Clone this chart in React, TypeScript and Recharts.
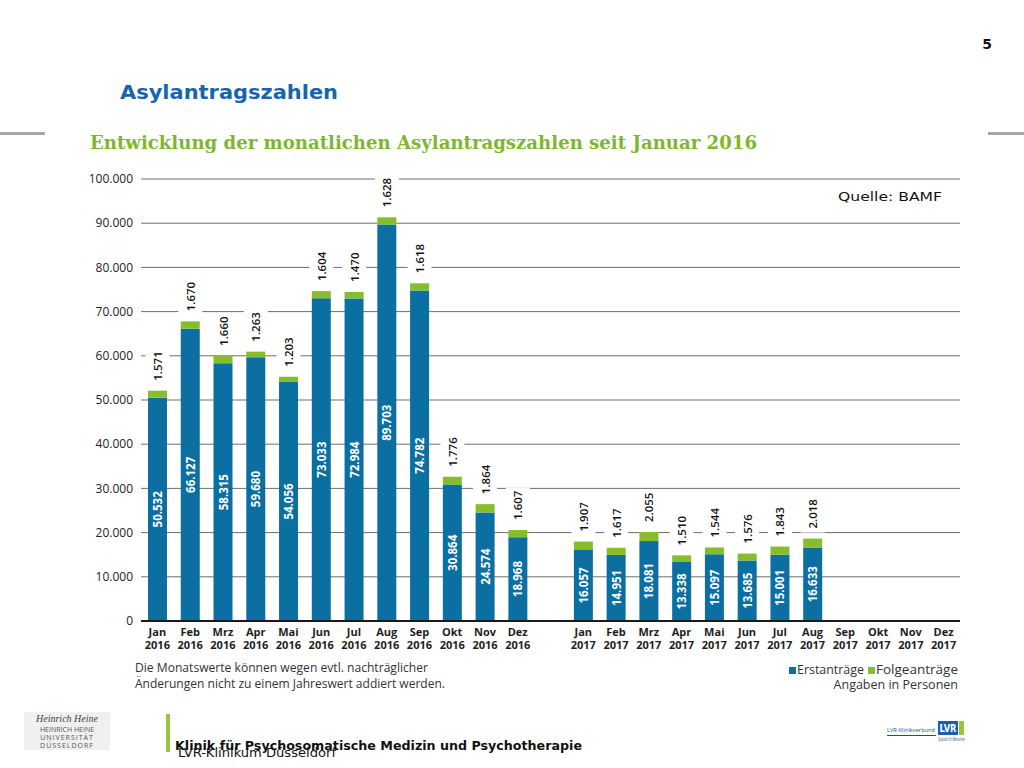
import React from "react";
import { BarChart, Bar, XAxis, YAxis, CartesianGrid, LabelList } from "recharts";

const months = ["Jan", "Feb", "Mrz", "Apr", "Mai", "Jun", "Jul", "Aug", "Sep", "Okt", "Nov", "Dez"];
const erst2016 = [50532, 66127, 58315, 59680, 54056, 73033, 72984, 89703, 74782, 30864, 24574, 18968];
const folge2016 = [1571, 1670, 1660, 1263, 1203, 1604, 1470, 1628, 1618, 1776, 1864, 1607];
const erst2017: (number | null)[] = [16057, 14951, 18081, 13338, 15097, 13685, 15001, 16633, null, null, null, null];
const folge2017: (number | null)[] = [1907, 1617, 2055, 1510, 1544, 1576, 1843, 2018, null, null, null, null];
const yTicks = [0, 10000, 20000, 30000, 40000, 50000, 60000, 70000, 80000, 90000, 100000];

const data: any[] = [];
months.forEach((m, i) => data.push({ key: `${m} 2016`, erst: erst2016[i], folge: folge2016[i] }));
data.push({ key: "gap", erst: null, folge: null });
months.forEach((m, i) => data.push({ key: `${m} 2017`, erst: erst2017[i], folge: folge2017[i] }));

const BLUE = "#0b6fa2";
const GREEN = "#86bd2a";
const FONT = "'Open Sans', sans-serif";

const fmt = (v: number) => {
  const s = String(Math.round(v));
  return s.replace(/\B(?=(\d{3})+(?!\d))/g, ".");
};

const XTick = (props: any) => {
  const { x, payload } = props;
  const v: string = payload.value;
  if (!v || v === "gap") return null;
  const [m, y] = v.split(" ");
  return (
    <g>
      <text x={x} y={636} textAnchor="middle" fontFamily={FONT} fontWeight={700} fontSize={11} fill="#1e1e1e">{m}</text>
      <text x={x} y={649} textAnchor="middle" fontFamily={FONT} fontWeight={700} fontSize={11} fill="#1e1e1e">{y}</text>
    </g>
  );
};

const ErstLabel = (props: any) => {
  const { x, y, width, height, value } = props;
  if (value == null) return null;
  const cx = Number(x) + Number(width) / 2;
  const cy = Number(y) + Number(height) / 2;
  return (
    <text x={cx} y={cy} transform={`rotate(-90 ${cx} ${cy})`} textAnchor="middle" dominantBaseline="central"
      fontFamily={FONT} fontWeight={700} fontSize={11.5} fill="#ffffff">{fmt(value)}</text>
  );
};

const FolgeLabel = (props: any) => {
  const { x, y, width, value } = props;
  if (value == null) return null;
  const cx = Number(x) + Number(width) / 2;
  const sy = Number(y) - 10;
  return (
    <g>
      <rect x={cx - 12} y={sy - 32} width={24} height={36} fill="#ffffff" />
      <text x={cx} y={sy} transform={`rotate(-90 ${cx} ${sy})`} textAnchor="start" dominantBaseline="central"
        fontFamily={FONT} fontWeight={600} fontSize={11.5} fill="#111">{fmt(value)}</text>
    </g>
  );
};

export default function App() {
  return (
    <div style={{ position: "absolute", left: 0, top: 0, width: 1024, height: 768, background: "#fff", overflow: "hidden" }}>
      <div style={{ position: "absolute", left: 0, top: 0 }}>
        <BarChart width={1024} height={768} data={data} margin={{ top: 179, right: 64, bottom: 117, left: 81 }} barCategoryGap={0}>
          <CartesianGrid vertical={false} stroke="#6e6e6e" strokeWidth={1} />
          <XAxis dataKey="key" interval={0} tick={<XTick />} tickLine={false} axisLine={{ stroke: "#1a1a1a", strokeWidth: 2 }} height={30} />
          <YAxis domain={[0, 100000]} ticks={yTicks} tickFormatter={fmt} width={60} axisLine={false} tickLine={false}
            tick={{ fontFamily: FONT, fontSize: 12, fill: "#222" }} interval={0} />
          <Bar dataKey="erst" stackId="a" fill={BLUE} barSize={19} isAnimationActive={false}>
            <LabelList dataKey="erst" content={<ErstLabel />} />
          </Bar>
          <Bar dataKey="folge" stackId="a" fill={GREEN} barSize={19} isAnimationActive={false}>
            <LabelList dataKey="folge" content={<FolgeLabel />} />
          </Bar>
        </BarChart>
      </div>
      <svg width={1024} height={768} style={{ position: "absolute", left: 0, top: 0, pointerEvents: "none" }}>
        <text x={987} y={49} textAnchor="middle" fontFamily="'DejaVu Sans', sans-serif" fontWeight={700} fontSize={14} fill="#111">5</text>
        <text x={120} y={99} fontFamily="'DejaVu Sans', sans-serif" fontWeight={700} fontSize={20} fill="#1566ae"
          textLength={218} lengthAdjust="spacingAndGlyphs">Asylantragszahlen</text>
        <rect x={0} y={132} width={45} height={3} fill="#a6a6a6" />
        <rect x={988} y={132} width={36} height={3} fill="#a6a6a6" />
        <text x={90} y={149} fontFamily="'DejaVu Serif', serif" fontWeight={700} fontSize={19} fill="#7db72f"
          textLength={667} lengthAdjust="spacingAndGlyphs">Entwicklung der monatlichen Asylantragszahlen seit Januar 2016</text>
        <text x={838} y={201} fontFamily="'DejaVu Sans', sans-serif" fontSize={12.5} fill="#111"
          textLength={104} lengthAdjust="spacingAndGlyphs">Quelle:  BAMF</text>
        <text x={135} y={672} fontFamily={FONT} fontSize={12.5} fill="#333" textLength={293} lengthAdjust="spacingAndGlyphs">Die Monatswerte können wegen evtl. nachträglicher</text>
        <text x={135} y={688} fontFamily={FONT} fontSize={12.5} fill="#333" textLength={310} lengthAdjust="spacingAndGlyphs">Änderungen nicht zu einem Jahreswert addiert werden.</text>
        <rect x={789} y={667} width={7} height={7} fill={BLUE} />
        <text x={797} y={674} fontFamily={FONT} fontSize={12.5} fill="#333" textLength={67} lengthAdjust="spacingAndGlyphs">Erstanträge</text>
        <rect x={868} y={667} width={7} height={7} fill={GREEN} />
        <text x={876} y={674} fontFamily={FONT} fontSize={12.5} fill="#333" textLength={82} lengthAdjust="spacingAndGlyphs">Folgeanträge</text>
        <text x={958} y={689} textAnchor="end" fontFamily={FONT} fontSize={12.5} fill="#333">Angaben in Personen</text>
        {/* footer */}
        <rect x={24} y={712} width={86} height={38} fill="#f0f0f0" />
        <text x={67} y={722} textAnchor="middle" fontFamily="'Liberation Serif', serif" fontStyle="italic" fontSize={10} fill="#444">Heinrich Heine</text>
        <text x={67} y={732} textAnchor="middle" fontFamily={FONT} fontSize={7} fill="#555">HEINRICH HEINE</text>
        <text x={67} y={740} textAnchor="middle" fontFamily={FONT} fontSize={7} fill="#555" letterSpacing={1}>UNIVERSITÄT</text>
        <text x={67} y={748} textAnchor="middle" fontFamily={FONT} fontSize={7} fill="#555" letterSpacing={1}>DÜSSELDORF</text>
        <rect x={166} y={714} width={4} height={38} fill="#9cc43a" />
        <text x={175} y={750} fontFamily="'DejaVu Sans Condensed', 'DejaVu Sans', sans-serif" fontWeight={700} fontSize={13} fill="#111"
          textLength={407} lengthAdjust="spacingAndGlyphs">Klinik für Psychosomatische Medizin und Psychotherapie</text>
        <text x={178} y={757} fontFamily="'DejaVu Sans Condensed', 'DejaVu Sans', sans-serif" fontSize={13} fill="#111"
          textLength={158} lengthAdjust="spacingAndGlyphs">LVR-Klinikum Düsseldorf</text>
        <text x={887} y={732} fontFamily={FONT} fontSize={6} fill="#1a4f8f" textLength={48} lengthAdjust="spacingAndGlyphs">LVR-Klinikverbund</text>
        <rect x={887} y={735} width={49} height={1} fill="#1a4f8f" />
        <rect x={938} y={721} width={20} height={14} fill="#1b5fa8" />
        <text x={948} y={732} textAnchor="middle" fontFamily="'DejaVu Sans', sans-serif" fontWeight={700} fontSize={10} fill="#fff"
          textLength={17} lengthAdjust="spacingAndGlyphs">LVR</text>
        <rect x={959} y={721} width={5} height={14} fill="#9cc43a" />
        <text x={938} y={741} fontFamily={FONT} fontSize={4.5} fill="#1a4f8f" textLength={27} lengthAdjust="spacingAndGlyphs">Qualität für Menschen</text>
      </svg>
    </div>
  );
}
